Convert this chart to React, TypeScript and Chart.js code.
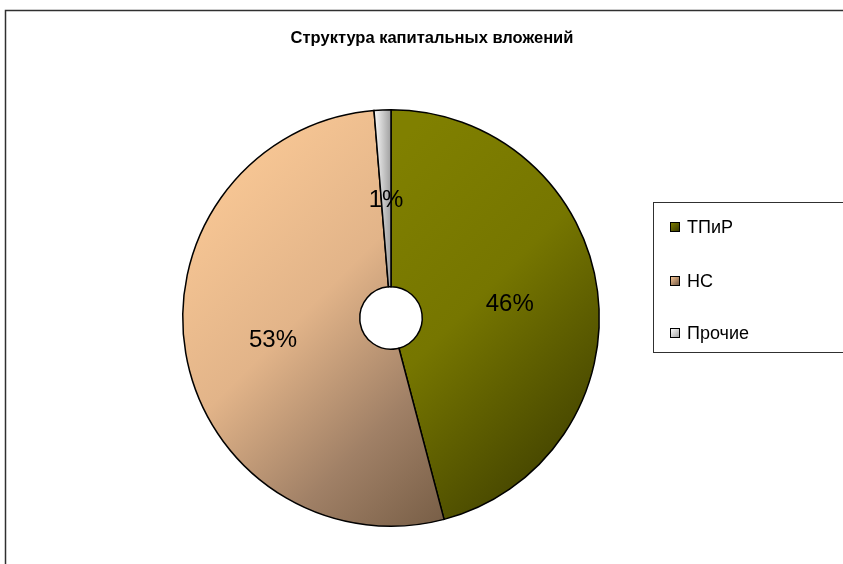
import React, { useEffect, useRef } from "react";
import { Chart, registerables } from "chart.js";

Chart.register(...registerables);

const TITLE = "Структура капитальных вложений";
const categories = ["ТПиР", "НС", "Прочие"];
const values = [45.9, 52.8, 1.3];
const baseColors = ["#808000", "#FFCC99", "#FFFFFF"];
const darkColors = ["#363600", "#6A5240", "#A0A0A0"];
const gradientStops: [number, string][][] = [
  [[0, "#808000"], [0.3, "#808000"], [0.58, "#767600"], [0.84, "#4c4c00"], [1, "#303000"]],
  [[0, "#FFCC99"], [0.13, "#F7C694"], [0.39, "#E2B489"], [0.62, "#A08066"], [0.8, "#7a6048"], [1, "#604a38"]],
  [[0, "#FFFFFF"], [1, "#A0A0A0"]],
];

const W = 843;
const H = 564;

function makeFill(ctx: CanvasRenderingContext2D, area: any, i: number) {
  const cx = (area.left + area.right) / 2;
  const cy = (area.top + area.bottom) / 2;
  const r = Math.min(area.right - area.left, area.bottom - area.top) / 2;
  const g =
    i === 2
      ? ctx.createLinearGradient(cx - 18, cy, cx, cy)
      : ctx.createLinearGradient(cx - r, cy - r, cx + r, cy + r);
  gradientStops[i].forEach(([o, c]) => g.addColorStop(o, c));
  return g;
}

const decorPlugin = {
  id: "decor",
  beforeDraw(chart: any) {
    const ctx = chart.ctx;
    ctx.save();
    ctx.fillStyle = "#ffffff";
    ctx.fillRect(0, 0, W, H);
    ctx.strokeStyle = "#303030";
    ctx.lineWidth = 1.5;
    ctx.strokeRect(5.5, 10.5, W + 20, H + 20);
    ctx.fillStyle = "#000000";
    ctx.font = "bold 16.5px Arial, 'Liberation Sans', sans-serif";
    ctx.textAlign = "center";
    ctx.textBaseline = "middle";
    ctx.fillText(TITLE, 432, 38);
    ctx.restore();
  },
  afterDraw(chart: any) {
    const ctx = chart.ctx;
    const meta = chart.getDatasetMeta(0);
    const total = values.reduce((a, b) => a + b, 0);
    ctx.save();
    ctx.fillStyle = "#000000";
    ctx.font = "24px Arial, 'Liberation Sans', sans-serif";
    ctx.textAlign = "center";
    ctx.textBaseline = "middle";
    meta.data.forEach((arc: any, i: number) => {
      const p = arc.getCenterPoint();
      const pct = Math.round((values[i] / total) * 100) + "%";
      ctx.fillText(pct, p.x, p.y + 2);
    });
    // legend box
    ctx.strokeStyle = "#303030";
    ctx.lineWidth = 1;
    ctx.fillStyle = "#ffffff";
    ctx.fillRect(653.5, 202.5, W, 150);
    ctx.strokeRect(653.5, 202.5, W, 150);
    const ys = [227, 281, 333];
    categories.forEach((c, i) => {
      const y = ys[i];
      const g = ctx.createLinearGradient(670, y - 4, 679, y + 5);
      g.addColorStop(0, baseColors[i]);
      g.addColorStop(1, darkColors[i]);
      ctx.fillStyle = g;
      ctx.fillRect(670.5, y - 4.5, 9, 9);
      ctx.strokeStyle = "#000000";
      ctx.strokeRect(670.5, y - 4.5, 9, 9);
      ctx.fillStyle = "#000000";
      ctx.font = "18px Arial, 'Liberation Sans', sans-serif";
      ctx.textAlign = "left";
      ctx.textBaseline = "middle";
      ctx.fillText(c, 687, y + 1);
    });
    ctx.restore();
  },
};

export default function App() {
  const ref = useRef<HTMLCanvasElement | null>(null);
  useEffect(() => {
    document.body.style.margin = "0";
    const canvas = ref.current!;
    const chart = new Chart(canvas, {
      type: "doughnut",
      data: {
        labels: categories,
        datasets: [
          {
            data: values,
            backgroundColor: (c: any) => {
              const area = c.chart.chartArea;
              if (!area) return baseColors[c.dataIndex];
              return makeFill(c.chart.ctx, area, c.dataIndex);
            },
            borderColor: "#000000",
            borderWidth: 1.5,
            borderJoinStyle: "miter",
          },
        ],
      },
      options: {
        responsive: false,
        animation: false,
        cutout: "15%",
        rotation: 0,
        layout: { padding: { left: 182, right: 243, top: 108, bottom: 36 } },
        plugins: {
          legend: { display: false },
          title: { display: false },
          tooltip: { enabled: false },
        },
      },
      plugins: [decorPlugin],
    } as any);
    return () => chart.destroy();
  }, []);
  return (
    <div style={{ width: W, height: H }}>
      <canvas ref={ref} width={W} height={H} style={{ display: "block" }} />
    </div>
  );
}
